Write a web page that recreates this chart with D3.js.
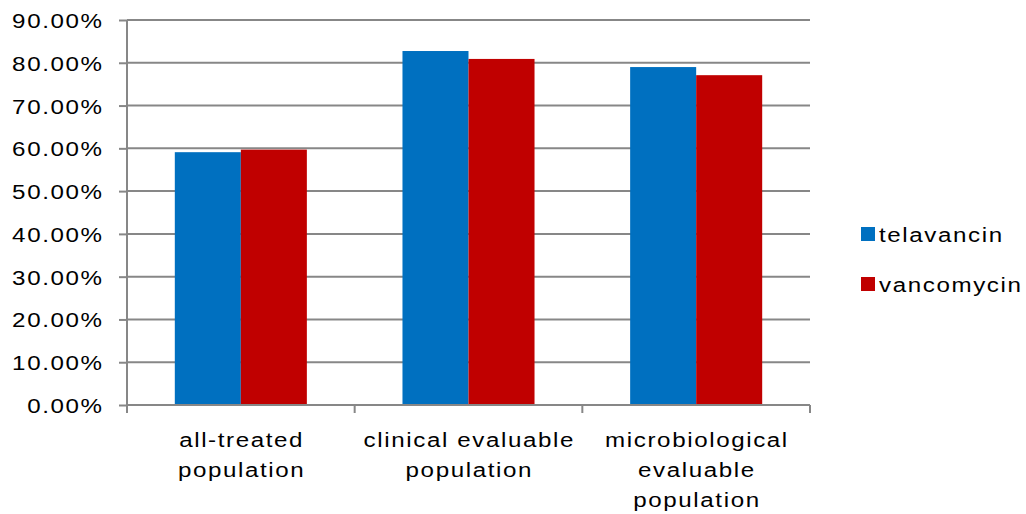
<!DOCTYPE html>
<html><head><meta charset="utf-8">
<script src="https://cdn.jsdelivr.net/npm/d3@7"></script>
<style>body{margin:0;background:#fff}svg{display:block}text{font-family:"Liberation Sans",Arial,sans-serif;fill:#000}</style>
</head><body>
<svg id="c" width="1026" height="514"></svg>
<script>
const categories = [["all-treated","population"],["clinical evaluable","population"],["microbiological","evaluable","population"]];
const series = ["telavancin","vancomycin"];
const telavancin = [0.591, 0.8275, 0.790];
const vancomycin = [0.597, 0.809, 0.771];
const yTicks = [0,0.1,0.2,0.3,0.4,0.5,0.6,0.7,0.8,0.9];
const colors = ["#0070C0","#C00000"];
const values = [telavancin, vancomycin];

const svg = d3.select("#c");
const SX = 1.15, FS = 21, LS = 1.4;
const catIdx = categories.map((d,i)=>i);
const x0 = d3.scaleBand().domain(catIdx).range([127, 810]).padding(0);
const bw = x0.bandwidth();
const x1 = d3.scaleBand().domain(series).range([bw*0.21, bw*0.79]).padding(0);
const y = d3.scaleLinear().domain([0,0.9]).range([405,20]);
const grey = "#878787";

// gridlines
svg.append("g").selectAll("line").data(yTicks.slice(1)).join("line")
  .attr("x1",127).attr("x2",810).attr("y1",d=>y(d)).attr("y2",d=>y(d))
  .attr("stroke",grey).attr("stroke-width",2);

// bars
const g = svg.append("g");
catIdx.forEach(ci=>{
  series.forEach((s,si)=>{
    g.append("rect").attr("x",x0(ci)+x1(s)).attr("width",x1.bandwidth())
     .attr("y",y(values[si][ci])).attr("height",y(0)-y(values[si][ci]))
     .attr("fill",colors[si]);
  });
});

// y axis
const yAxis = d3.axisLeft(y).tickValues(yTicks).tickSize(8).tickFormat(d=>(d*100).toFixed(2)+"%");
const ya = svg.append("g").attr("transform","translate(127,0)").call(yAxis);
ya.select(".domain").attr("stroke",grey).attr("stroke-width",2).attr("d","M0,20V405");
ya.selectAll(".tick line").attr("stroke",grey).attr("stroke-width",2);
ya.selectAll(".tick text").attr("x",null).attr("dy",null).attr("font-size",FS)
  .attr("letter-spacing",LS)
  .attr("text-anchor","end").attr("fill","#000")
  .attr("transform",`translate(${-25+LS*SX},7.5) scale(${SX},1)`);

// x axis
const xAxis = d3.axisBottom(x0).tickValues([]).tickSize(0);
const xa = svg.append("g").attr("transform","translate(0,405)").call(xAxis);
xa.select(".domain").attr("stroke",grey).attr("stroke-width",2).attr("d","M127,0H810");
xa.selectAll("line.sep").data(d3.range(categories.length+1)).join("line").attr("class","sep")
  .attr("x1",d=>127+d*bw).attr("x2",d=>127+d*bw).attr("y1",0).attr("y2",8)
  .attr("stroke",grey).attr("stroke-width",2);

// category labels
catIdx.forEach(ci=>{
  const cx = x0(ci)+bw/2;
  categories[ci].forEach((line,li)=>{
    svg.append("text").text(line).attr("font-size",FS).attr("text-anchor","middle")
      .attr("letter-spacing",LS)
      .attr("transform",`translate(${cx+LS*SX/2},${447+li*30}) scale(${SX},1)`);
  });
});

// legend
const leg = svg.append("g");
series.forEach((s,i)=>{
  const yy = 227 + i*50;
  leg.append("rect").attr("x",861).attr("y",yy).attr("width",14).attr("height",14).attr("fill",colors[i]);
  leg.append("text").text(s).attr("font-size",FS).attr("letter-spacing",LS)
    .attr("transform",`translate(879,${yy+15}) scale(${SX},1)`);
});
</script>
</body></html>
